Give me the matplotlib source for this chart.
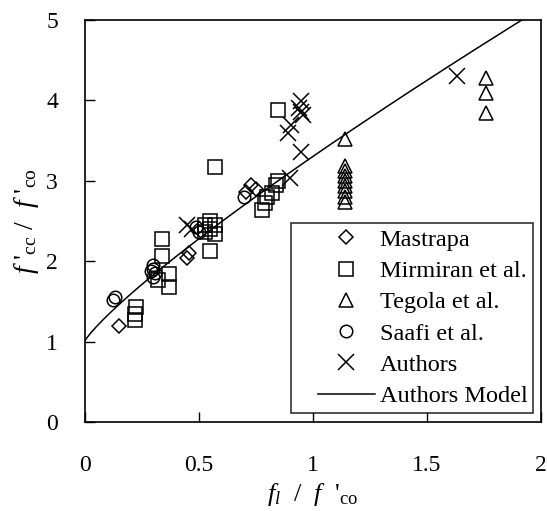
import numpy as np
import matplotlib
matplotlib.use("Agg")
import matplotlib.pyplot as plt
from matplotlib.lines import Line2D
from matplotlib.legend_handler import HandlerLine2D

plt.rcParams["font.family"] = ["Liberation Serif", "DejaVu Serif"]
plt.rcParams["mathtext.fontset"] = "custom"
plt.rcParams["mathtext.rm"] = "Liberation Serif"
plt.rcParams["mathtext.it"] = "Liberation Serif:italic"

# Confinement ratio (x) and strength ratio (y) for each data set
mastrapa_x = [0.15, 0.45, 0.46, 0.71, 0.73, 0.75]
mastrapa_y = [1.20, 2.04, 2.10, 2.86, 2.95, 2.90]

mirmiran_x = [0.22, 0.22, 0.225, 0.34, 0.34, 0.32, 0.37, 0.37,
              0.53, 0.55, 0.57, 0.53, 0.55, 0.57, 0.55, 0.57,
              0.78, 0.79, 0.80, 0.82, 0.84, 0.85, 0.85]
mirmiran_y = [1.27, 1.35, 1.43, 2.28, 2.06, 1.77, 1.84, 1.68,
              2.45, 2.50, 2.45, 2.36, 2.40, 2.34, 2.13, 3.17,
              2.64, 2.72, 2.80, 2.85, 2.95, 3.00, 3.88]

tegola_x = [1.14, 1.14, 1.14, 1.14, 1.14, 1.14, 1.14, 1.14, 1.14,
            1.76, 1.76, 1.76]
tegola_y = [3.52, 3.18, 3.12, 3.06, 3.00, 2.93, 2.87, 2.80, 2.74,
            4.28, 4.09, 3.84]

saafi_x = [0.125, 0.135, 0.29, 0.30, 0.30, 0.31, 0.30, 0.49, 0.50, 0.70]
saafi_y = [1.52, 1.56, 1.88, 1.95, 1.90, 1.85, 1.80, 2.43, 2.36, 2.80]

authors_x = [0.45, 0.47, 0.95, 0.94, 0.95, 0.96, 0.905, 0.89, 0.95, 0.90, 1.635]
authors_y = [2.45, 2.40, 3.99, 3.90, 3.86, 3.82, 3.69, 3.60, 3.36, 3.03, 4.30]

# Authors' model: f'cc/f'co = 1 + k (fl/f'co)^n
model_k = 2.3
model_n = 0.85

x_ticks = [0, 0.5, 1, 1.5, 2]
x_tick_labels = ["0", "0.5", "1", "1.5", "2"]
y_ticks = [0, 1, 2, 3, 4, 5]

fig = plt.figure(figsize=(5.47, 5.11), dpi=100)
ax = fig.add_axes([0.1545, 0.174, 0.834, 0.787])

mk = dict(linestyle="none", markerfacecolor="none", markeredgecolor="black",
          markeredgewidth=1.1, color="black")
ax.plot(mastrapa_x, mastrapa_y, marker="D", markersize=7, label="Mastrapa", **mk)
ax.plot(mirmiran_x, mirmiran_y, marker="s", markersize=9.5, label="Mirmiran et al.", **mk)
ax.plot(tegola_x, tegola_y, marker="^", markersize=10.5, label="Tegola et al.", **mk)
ax.plot(saafi_x, saafi_y, marker="o", markersize=9, label="Saafi et al.", **mk)
ax.plot(authors_x, authors_y, marker="x", markersize=11, label="Authors", **mk)

xm = np.linspace(0, 2, 300)
ax.plot(xm, 1 + model_k * xm ** model_n, color="black", linewidth=1.1,
        label="Authors Model")

ax.set_xlim(0, 2)
ax.set_ylim(0, 5)
ax.set_xticks(x_ticks)
ax.set_xticklabels(x_tick_labels)
ax.set_yticks(y_ticks)
ax.tick_params(direction="in", length=7, width=1, labelsize=17)
ax.tick_params(axis="x", pad=24)
ax.tick_params(axis="y", pad=19)
for s in ax.spines.values():
    s.set_linewidth(1.2)

ax.set_xlabel(r"$f_{l}$  /  $f$  '$_{\mathrm{co}}$", fontsize=19, labelpad=3)
ax.set_ylabel(r"$f$ '$_{\mathrm{cc}}$ /  $f$ '$_{\mathrm{co}}$", fontsize=20, labelpad=4)

leg = ax.legend(loc="lower right", bbox_to_anchor=(0.984, 0.022), fontsize=17.5,
                frameon=True, fancybox=False, edgecolor="black",
                handlelength=3.2, handletextpad=0.2, labelspacing=0.38,
                borderpad=0.25, borderaxespad=0,
                handler_map={Line2D: HandlerLine2D(xpad=0.85)})
leg.get_frame().set_linewidth(1.2)

fig.savefig("out.png", dpi=100)
